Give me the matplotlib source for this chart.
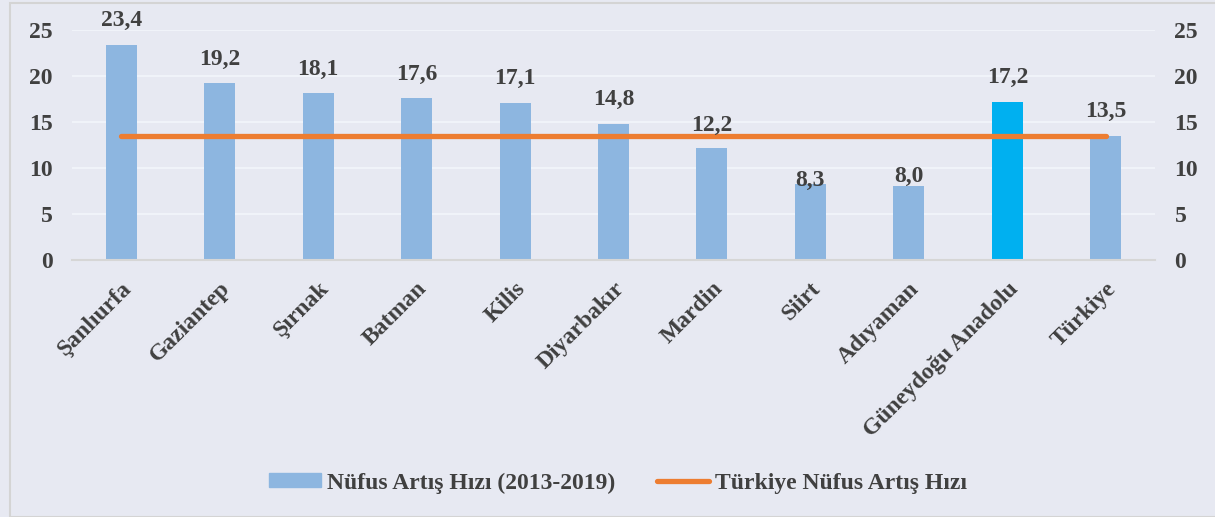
import matplotlib.pyplot as plt
from matplotlib.patches import Rectangle
from matplotlib.lines import Line2D

# data
iller = ["Şanlıurfa", "Gaziantep", "Şırnak", "Batman", "Kilis", "Diyarbakır",
         "Mardin", "Siirt", "Adıyaman", "Güneydoğu Anadolu", "Türkiye"]
artis = [23.4, 19.2, 18.1, 17.6, 17.1, 14.8, 12.2, 8.3, 8.0, 17.2, 13.5]
turkiye = [13.5] * len(iller)
yticks = [0, 5, 10, 15, 20, 25]

bg = "#E7E9F2"
txt = "#404040"
fs = 17
plt.rcParams['font.family'] = ['Liberation Serif', 'DejaVu Serif']
plt.rcParams['font.weight'] = 'bold'

fig = plt.figure(figsize=(12.15, 5.17), dpi=100, facecolor=bg)
ax = fig.add_axes([72/1215, 1 - 260/517, (1155-72)/1215, 230/517], facecolor=bg)

x = list(range(len(iller)))
colors = ["#8DB6E0"] * len(iller)
colors[9] = "#00B0F0"
ax.bar(x, artis, width=0.315, color=colors, zorder=2)
ax.plot(x, turkiye, color="#ED7D31", lw=3.8, solid_capstyle='round', zorder=3)

# labels that were moved by hand in the original chart
lbl_off = {"Mardin": 1.8, "Siirt": -0.2, "Adıyaman": 0.45}
for xi, ad, v in zip(x, iller, artis):
    ax.text(xi, v + lbl_off.get(ad, 2.0), f"{v:.1f}".replace(".", ","),
            ha='center', va='baseline', fontsize=fs, fontweight='bold',
            color=txt, zorder=4)

ax.set_xlim(-0.5, len(iller) - 0.5)
ax.set_ylim(0, 25)
ax.set_yticks(yticks)
ax.set_yticklabels([str(t) for t in yticks], fontsize=fs, color=txt, fontweight='bold')
ax.grid(axis='y', color="#F3F6FB", lw=1.2, zorder=0)
ax.tick_params(axis='both', length=0)
ax.tick_params(axis='y', pad=14)
for s in ['top', 'right', 'left']:
    ax.spines[s].set_visible(False)
ax.spines['bottom'].set_color("#D6D6D6")
ax.spines['bottom'].set_linewidth(1.5)

ax.set_xticks(x)
ax.set_xticklabels(iller, rotation=45, ha='right', rotation_mode='anchor',
                   fontsize=fs, fontweight='bold', color=txt)
ax.tick_params(axis='x', pad=13)

ax2 = ax.twinx()
ax2.set_ylim(0, 25)
ax2.set_yticks(yticks)
ax2.set_yticklabels([str(t) for t in yticks], fontsize=fs, color=txt, fontweight='bold')
ax2.tick_params(axis='y', length=0, pad=14)
for s in ['top', 'right', 'left', 'bottom']:
    ax2.spines[s].set_visible(False)

handles = [Rectangle((0, 0), 1, 1, color="#8DB6E0"),
           Line2D([0], [0], color="#ED7D31", lw=3.8, solid_capstyle='round')]
leg = fig.legend(handles, ["Nüfus Artış Hızı (2013-2019)", "Türkiye Nüfus Artış Hızı"],
                 loc='center', bbox_to_anchor=(618/1215, 1 - 483/517), ncol=2,
                 frameon=False, fontsize=fs, handlelength=2.2, handleheight=0.5,
                 columnspacing=1.8, handletextpad=0.25)
for t in leg.get_texts():
    t.set_color(txt)
    t.set_fontweight('bold')

fig.patches.append(Rectangle((10/1215, 0), 1.2, 1 - 3/517, transform=fig.transFigure,
                             fill=False, edgecolor="#D4D4D4", lw=1.5))

fig.savefig("out.png", dpi=100, facecolor=bg)
